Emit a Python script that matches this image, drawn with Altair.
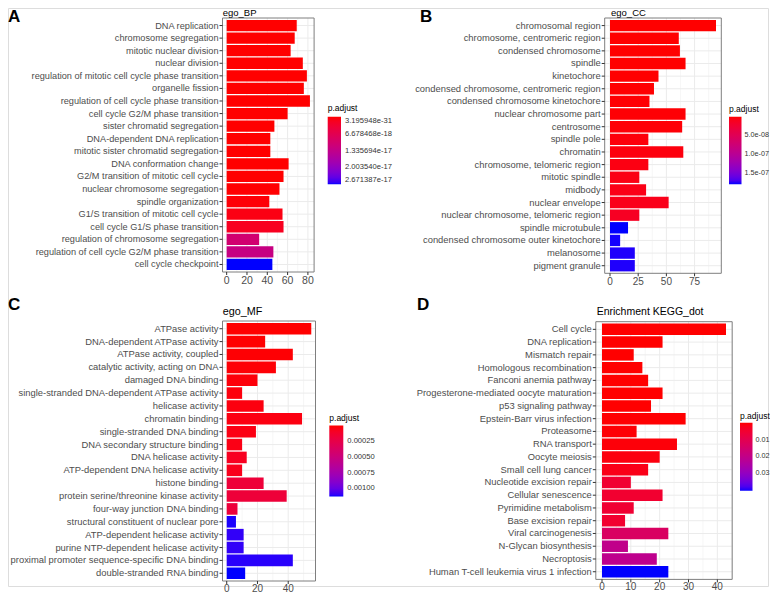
import altair as alt
import pandas as pd

FONT = "Liberation Sans"

# ---------------- data ----------------
bp_terms = ["DNA replication", "chromosome segregation", "mitotic nuclear division", "nuclear division",
            "regulation of mitotic cell cycle phase transition", "organelle fission",
            "regulation of cell cycle phase transition", "cell cycle G2/M phase transition",
            "sister chromatid segregation", "DNA-dependent DNA replication",
            "mitotic sister chromatid segregation", "DNA conformation change",
            "G2/M transition of mitotic cell cycle", "nuclear chromosome segregation",
            "spindle organization", "G1/S transition of mitotic cell cycle",
            "cell cycle G1/S phase transition", "regulation of chromosome segregation",
            "regulation of cell cycle G2/M phase transition", "cell cycle checkpoint"]
bp_count = [69, 67, 63, 75, 79, 76, 82, 60, 47, 43, 43, 61, 56, 52, 42, 55, 56, 32, 46, 45]
bp_padj = [3.195948e-31, 8.4e-30, 2.1e-28, 4.6e-28, 1.3e-27, 2.2e-27, 5.1e-27, 3.3e-24, 1.6e-22, 4.0e-21,
           4.1e-21, 1.1e-20, 2.5e-20, 7.8e-20, 3.0e-19, 9.0e-19, 1.8e-18, 1.05e-17, 1.25e-17, 2.671387e-17]
bp_ticks = [0, 20, 40, 60, 80]
bp_minor = [10, 30, 50, 70]
bp_legend = [3.195948e-31, 6.678468e-18, 1.335694e-17, 2.003540e-17, 2.671387e-17]

cc_terms = ["chromosomal region", "chromosome, centromeric region", "condensed chromosome", "spindle",
            "kinetochore", "condensed chromosome, centromeric region", "condensed chromosome kinetochore",
            "nuclear chromosome part", "centrosome", "spindle pole", "chromatin",
            "chromosome, telomeric region", "mitotic spindle", "midbody", "nuclear envelope",
            "nuclear chromosome, telomeric region", "spindle microtubule",
            "condensed chromosome outer kinetochore", "melanosome", "pigment granule"]
cc_count = [94, 61, 62, 67, 43, 39, 35, 67, 64, 34, 65, 34, 26, 32, 52, 26, 16, 9, 22, 22]
cc_padj = [1.2e-11, 3.5e-11, 6.0e-11, 1.1e-10, 2.3e-10, 4.0e-10, 7.7e-10, 1.4e-9, 2.0e-9, 3.1e-9,
           4.2e-9, 5.5e-9, 6.3e-9, 7.5e-9, 8.8e-9, 1.4e-8, 1.8e-7, 1.79e-7, 1.78e-7, 1.78e-7]
cc_ticks = [0, 25, 50, 75]
cc_minor = [12.5, 37.5, 62.5, 87.5]
cc_legend = [5e-8, 1e-7, 1.5e-7]

mf_terms = ["ATPase activity", "DNA-dependent ATPase activity", "ATPase activity, coupled",
            "catalytic activity, acting on DNA", "damaged DNA binding",
            "single-stranded DNA-dependent ATPase activity", "helicase activity", "chromatin binding",
            "single-stranded DNA binding", "DNA secondary structure binding", "DNA helicase activity",
            "ATP-dependent DNA helicase activity", "histone binding",
            "protein serine/threonine kinase activity", "four-way junction DNA binding",
            "structural constituent of nuclear pore", "ATP-dependent helicase activity",
            "purine NTP-dependent helicase activity", "proximal promoter sequence-specific DNA binding",
            "double-stranded RNA binding"]
mf_count = [55, 25, 43, 32, 20, 10, 24, 49, 19, 10, 13, 10, 24, 39, 7, 6, 11, 11, 43, 12]
mf_padj = [1.5e-6, 4.2e-6, 9.1e-6, 1.3e-5, 2.0e-5, 2.6e-5, 2.9e-5, 3.3e-5, 3.8e-5, 4.4e-5,
           8.0e-5, 6.5e-5, 1.8e-4, 1.8e-4, 1.9e-4, 1.12e-3, 1.1e-3, 1.1e-3, 1.11e-3, 1.13e-3]
mf_ticks = [0, 20, 40]
mf_minor = [10, 30, 50]
mf_legend = [0.00025, 0.0005, 0.00075, 0.001]

kg_terms = ["Cell cycle", "DNA replication", "Mismatch repair", "Homologous recombination",
            "Fanconi anemia pathway", "Progesterone-mediated oocyte maturation", "p53 signaling pathway",
            "Epstein-Barr virus infection", "Proteasome", "RNA transport", "Oocyte meiosis",
            "Small cell lung cancer", "Nucleotide excision repair", "Cellular senescence",
            "Pyrimidine metabolism", "Base excision repair", "Viral carcinogenesis",
            "N-Glycan biosynthesis", "Necroptosis", "Human T-cell leukemia virus 1 infection"]
kg_count = [43, 21, 11, 14, 16, 21, 17, 29, 12, 26, 20, 16, 10, 21, 11, 8, 23, 9, 19, 23]
kg_padj = [2.0e-12, 1.5e-9, 3.0e-8, 2.1e-6, 8.0e-6, 2.5e-5, 9.0e-5, 1.6e-4, 3.5e-4, 6.0e-4,
           1.0e-3, 1.8e-3, 5.3e-3, 5.0e-3, 5.4e-3, 5.0e-3, 1.33e-2, 2.05e-2, 2.1e-2, 4.04e-2]
kg_ticks = [0, 10, 20, 30, 40]
kg_minor = [5, 15, 25, 35, 45]
kg_legend = [0.01, 0.02, 0.03]

OFF = 8  # page margin; layout numbers below are page coordinates


def px(p):
    return p - OFF


def panel(terms, counts, padj, ticks, minor, legend_values, c):
    df = pd.DataFrame({"term": terms, "Count": counts, "padj": padj})
    tdf = pd.DataFrame({"v": ticks, "lab": [str(t) for t in ticks]})
    mdf = pd.DataFrame({"v": minor})
    one = pd.DataFrame({"t": [c["title"]], "l": [c["letter"]]})
    L, R, T, B = c["left"], c["right"], c["top"], c["bottom"]
    xsc = alt.Scale(domain=c["xdom"], range=[px(L), px(R)], nice=False, zero=False)
    ysc = alt.Scale(domain=terms, range=[px(T), px(B)], paddingInner=0.1, paddingOuter=0.15)
    Y = alt.Y("term:N", scale=ysc, axis=None)

    leg_kw = dict(orient="none", legendX=px(c["legx"]), legendY=px(c["legy"]), direction="vertical",
                  title="p.adjust", titleFont=FONT, titleFontSize=8.5, titleFontWeight="normal",
                  titleColor="black", titlePadding=c["tpad"], titleAnchor="start",
                  gradientLength=c["glen"], gradientThickness=c["gthick"], gradientStrokeWidth=0,
                  labelFont=FONT, labelFontSize=c["legfs"], labelColor="#333333",
                  labelOffset=c["legoff"], labelOverlap=False, values=legend_values, padding=0)
    if "fmt" in c:
        leg_kw["format"] = c["fmt"]
    if "lexpr" in c:
        leg_kw["labelExpr"] = c["lexpr"]
    pmin, pmax = min(padj), max(padj)
    color = alt.Color("padj:Q",
                      scale=alt.Scale(domain=[pmax, pmin], range=["#0000FF", "#FF0000"],
                                      interpolate="lab", zero=False, nice=False),
                      legend=alt.Legend(**leg_kw))

    grid_major = alt.Chart(tdf).mark_rule(color="#EBEBEB", strokeWidth=1).encode(
        x=alt.X("v:Q", scale=xsc, axis=None), y=alt.value(px(T)), y2=alt.value(px(B)))
    grid_minor = alt.Chart(mdf).mark_rule(color="#F0F0F0", strokeWidth=0.6).encode(
        x=alt.X("v:Q", scale=xsc, axis=None), y=alt.value(px(T)), y2=alt.value(px(B)))
    grid_h = alt.Chart(df).mark_rule(color="#EBEBEB", strokeWidth=1).encode(
        y=Y, x=alt.value(px(L)), x2=alt.value(px(R)))
    bars = alt.Chart(df).mark_bar().encode(
        x=alt.X("Count:Q", scale=xsc, axis=None), y=Y, color=color)
    border = alt.Chart(one).mark_rect(fillOpacity=0, stroke="#7F7F7F", strokeWidth=1).encode(
        x=alt.value(px(L)), x2=alt.value(px(R)), y=alt.value(px(T)), y2=alt.value(px(B)))
    yticks = alt.Chart(df).mark_rule(color="#333333", strokeWidth=1).encode(
        y=Y, x=alt.value(px(L) - 3), x2=alt.value(px(L)))
    ylabels = alt.Chart(df).mark_text(align="right", baseline="middle", font=FONT,
                                      fontSize=c["labelfs"], color="#4D4D4D").encode(
        y=Y, x=alt.value(px(L) - 4), text="term:N")
    xticks = alt.Chart(tdf).mark_rule(color="#333333", strokeWidth=1).encode(
        x=alt.X("v:Q", scale=xsc, axis=None), y=alt.value(px(B)), y2=alt.value(px(B) + 3))
    xlabels = alt.Chart(tdf).mark_text(align="center", baseline="top", font=FONT,
                                       fontSize=c["tickfs"], color="#4D4D4D").encode(
        x=alt.X("v:Q", scale=xsc, axis=None), y=alt.value(px(B) + c["xlgap"]), text="lab:N")
    title = alt.Chart(one).mark_text(align="left", baseline="alphabetic", font=FONT,
                                     fontSize=c["titlefs"], color="black").encode(
        x=alt.value(px(c["tx"])), y=alt.value(px(c["ty"])), text="t:N")
    letter = alt.Chart(one).mark_text(align="left", baseline="alphabetic", font=FONT, fontSize=17,
                                      fontWeight="bold", color="black").encode(
        x=alt.value(px(c["lx"])), y=alt.value(px(c["ly"])), text="l:N")
    return alt.layer(grid_major, grid_minor, grid_h, bars, border, yticks, ylabels,
                     xticks, xlabels, title, letter)


pA = panel(bp_terms, bp_count, bp_padj, bp_ticks, bp_minor, bp_legend, dict(
    left=222.5, right=314.1, top=18, bottom=272, xdom=[-4.1, 86.1],
    labelfs=9.2, tickfs=10.5, xlgap=4, title="ego_BP", titlefs=9.5, tx=222.7, ty=16,
    letter="A", lx=8, ly=22,
    legx=327.7, legy=104, glen=67.6, gthick=13.3, tpad=4.2, legfs=7.6, legoff=4, fmt=".6e"))

pB = panel(cc_terms, cc_count, cc_padj, cc_ticks, cc_minor, cc_legend, dict(
    left=604.7, right=721.3, top=18, bottom=273.3, xdom=[-4.7, 98.7],
    labelfs=9.4, tickfs=10, xlgap=4, title="ego_CC", titlefs=9.5, tx=611, ty=16,
    letter="B", lx=420, ly=22,
    legx=729, legy=105, glen=67.6, gthick=12.5, tpad=3.2, legfs=7.2, legoff=3,
    lexpr="replace(format(datum.value, '.1e'), 'e-', 'e-0')"))

pC = panel(mf_terms, mf_count, mf_padj, mf_ticks, mf_minor, mf_legend, dict(
    left=222.5, right=315.5, top=321, bottom=581, xdom=[-2.75, 57.75],
    labelfs=9.4, tickfs=10, xlgap=3, title="ego_MF", titlefs=10.8, tx=222.7, ty=315,
    letter="C", lx=8, ly=310,
    legx=329.3, legy=414, glen=71, gthick=14, tpad=3.1, legfs=7.6, legoff=4, fmt=".5f"))

pD = panel(kg_terms, kg_count, kg_padj, kg_ticks, kg_minor, kg_legend, dict(
    left=595.8, right=732.2, top=321.7, bottom=579.4, xdom=[-2.15, 45.15],
    labelfs=9.4, tickfs=10, xlgap=3, title="Enrichment KEGG_dot", titlefs=10.5, tx=596.7, ty=315,
    letter="D", lx=417, ly=310,
    legx=740, legy=411.7, glen=68, gthick=12.5, tpad=2.5, legfs=7.2, legoff=3, fmt=".2f"))

chart = alt.layer(pA, pB, pC, pD).resolve_scale(
    x="independent", y="independent", color="independent").resolve_legend(
    color="independent").properties(width=760, height=578, padding=0).configure_view(
    stroke="transparent").configure(background="white")

chart.save("out.html", embed_options={"renderer": "svg", "actions": False})
